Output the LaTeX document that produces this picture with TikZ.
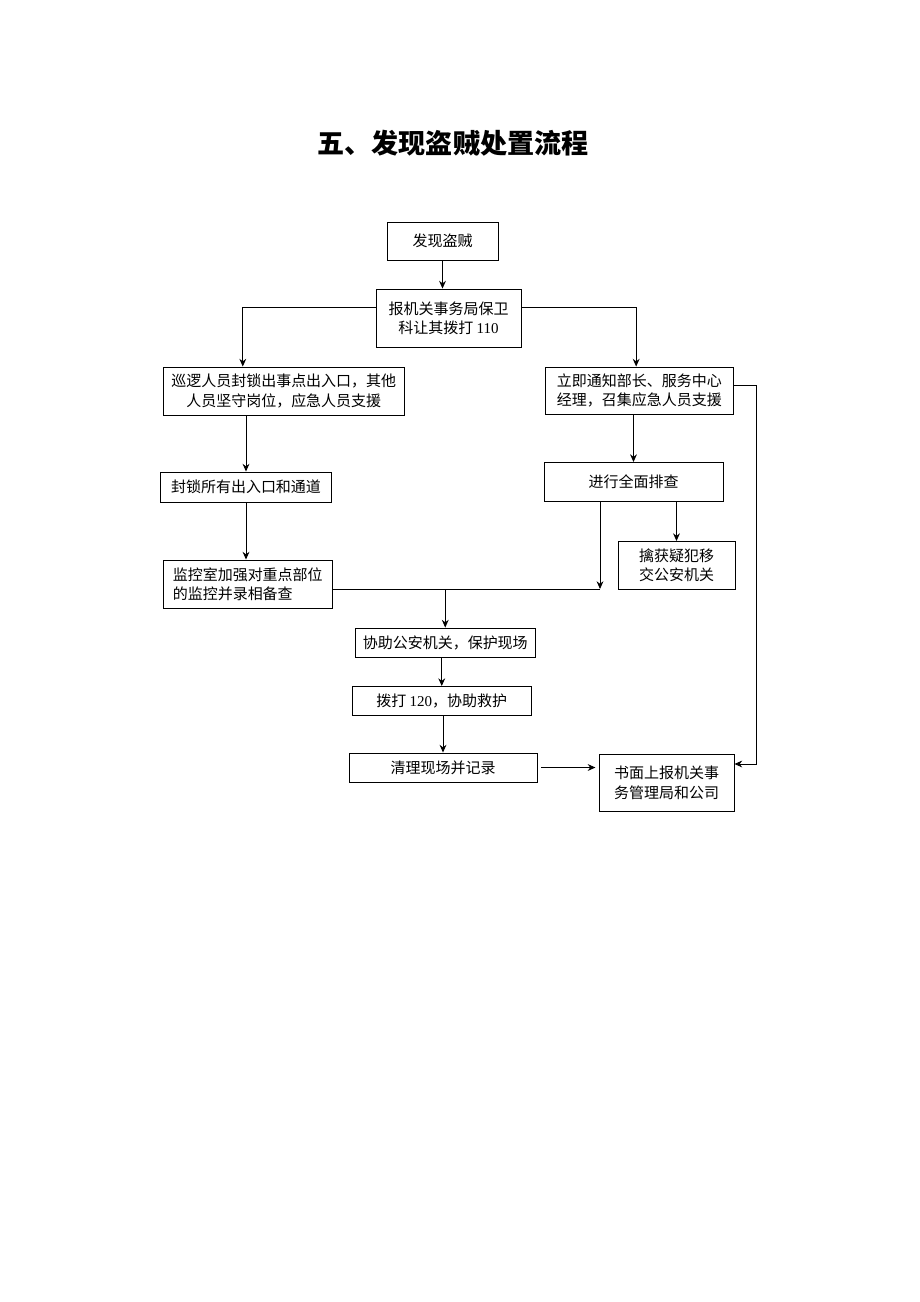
\documentclass[tikz,border=0pt]{standalone}
\usepackage{fontspec}
\setmainfont{Noto Sans CJK SC}
\newfontfamily\latin{Liberation Serif}
\usetikzlibrary{positioning, calc, arrows.meta}
\newcommand\pxu{0.6467pt}

\begin{document}
\begin{tikzpicture}[x=\pxu, y=-\pxu, >={Stealth[length=5pt,width=4.4pt]},
    box/.style 2 args={draw, line width=0.6pt, inner sep=0pt, align=center,
      minimum width=#1*\pxu, minimum height=#2*\pxu,
      font=\fontsize{9.7pt}{12.4pt}\selectfont},
    link/.style={->, line width=0.6pt}]
  \useasboundingbox (0,0) rectangle (920,1302);
  \node[font=\fontsize{17.5pt}{20pt}\selectfont\bfseries] (title) at (453,144) {五、发现盗贼处置流程};

  \node[box={111}{38}] (find) at (442.5,241) {发现盗贼};
  \node[box={145}{58}] (report) at (448.5,318) {报机关事务局保卫\\科让其拨打 {\latin 110}};
  \node[box={240.5}{48}] (patrol) at (283.75,391) {巡逻人员封锁出事点出入口，其他\\人员坚守岗位，应急人员支援};
  \node[box={188.5}{47}] (notify) at (639.25,390.5) {立即通知部长、服务中心\\经理，召集应急人员支援};
  \node[box={171}{30}] (seal) at (246,487) {封锁所有出入口和通道};
  \node[box={179}{39}] (search) at (633.5,482) {进行全面排查};
  \node[box={117}{47.5}] (catch) at (676.5,565.25) {擒获疑犯移\\交公安机关};
  \node[box={169.5}{48}, align=left] (monitor) at (247.75,584) {监控室加强对重点部位\\的监控并录相备查};
  \node[box={179.5}{29}] (assist) at (445.25,642.5) {协助公安机关，保护现场};
  \node[box={179.5}{29}] (dial) at (441.75,701) {拨打 {\latin 120}，协助救护};
  \node[box={188}{29}] (clean) at (443,767.5) {清理现场并记录};
  \node[box={135}{57.5}] (written) at (666.5,782.75) {书面上报机关事\\务管理局和公司};

  \coordinate (join) at (600,589);
  \coordinate (rail) at (756.7,764);

  \draw[link] (find.south) -- (find.south |- report.north);
  \draw[link] ([yshift=6.5pt]report.west) -| ([xshift=-26.5pt]patrol.north);
  \draw[link] ([yshift=6.5pt]report.east) -| ([xshift=-2pt]notify.north);
  \draw[link] (patrol.south -| seal.north) -- (seal.north);
  \draw[link] (seal.south) -- (seal.south |- monitor.north);
  \draw[link] (search.north |- notify.south) -- (search.north);
  \draw[link] (catch.north |- search.south) -- (catch.north);
  \draw[line width=0.6pt] (monitor.east |- join) -- (join);
  \draw[link] (search.south -| join) -- (join);
  \draw[link] (assist.north |- join) -- (assist.north);
  \draw[link] (dial.north |- assist.south) -- (dial.north);
  \draw[link] (clean.north |- dial.south) -- (clean.north);
  \draw[link, shorten <=2.6pt, shorten >=2pt] (clean.east) -- (clean.east -| written.west);
  \draw[link] ([yshift=3pt]notify.east) -| (rail) -- (rail -| written.east);
\end{tikzpicture}
\end{document}
